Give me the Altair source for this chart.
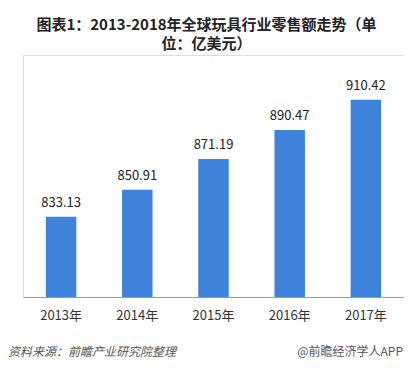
import altair as alt
import pandas as pd

years = ["2013年", "2014年", "2015年", "2016年", "2017年"]
values = [833.13, 850.91, 871.19, 890.47, 910.42]
title_lines = ["图表1：2013-2018年全球玩具行业零售额走势（单", "位：亿美元）"]
source_text = "资料来源：前瞻产业研究院整理"
brand_text = "@前瞻经济学人APP"

df = pd.DataFrame({"year": years, "value": values, "label": [f"{v:.2f}" for v in values]})

FONT = "Noto Sans CJK SC"
W, H = 381, 242

x = alt.X("year:N", sort=years, title=None,
          scale=alt.Scale(paddingInner=0.6, paddingOuter=0.3),
          axis=alt.Axis(labelAngle=0, ticks=False, domainColor="#9a9a9a", domainWidth=1,
                        labelFontSize=13, labelColor="#333333", labelFont=FONT, labelPadding=12))
y = alt.Y("value:Q", title=None, axis=None,
          scale=alt.Scale(domain=[780, 940], zero=False, nice=False))

base = alt.Chart(df)
bars = base.mark_bar(color="#3F82DC", clip=True).encode(x=x, y=y)
labels = base.mark_text(font=FONT, fontSize=13, color="#222222", baseline="alphabetic", dy=-10).encode(
    x=x, y=y, text="label:N")

foot_df = pd.DataFrame({"t": [source_text]})
foot1 = alt.Chart(foot_df).mark_text(font=FONT, fontSize=12, fontStyle="italic", color="#555555",
                                     align="left", baseline="middle").encode(
    x=alt.value(-15), y=alt.value(297), text="t:N")
foot2_df = pd.DataFrame({"t": [brand_text]})
foot2 = alt.Chart(foot2_df).mark_text(font=FONT, fontSize=12, color="#555555",
                                      align="right", baseline="middle").encode(
    x=alt.value(380), y=alt.value(297), text="t:N")

chart = alt.layer(bars, labels, foot1, foot2).properties(
    width=W, height=H,
    autosize=alt.AutoSizeParams(type="none"),
    padding={"left": 15, "top": 47, "right": 0, "bottom": 68},
    title=alt.TitleParams(text=title_lines, font=FONT, fontSize=15, fontWeight="bold",
                          color="#222222", lineHeight=19, anchor="middle", offset=3, dx=-7),
).configure_view(stroke=None).configure(background="white")

chart.save("out.html", embed_options={"renderer": "svg", "actions": False})
